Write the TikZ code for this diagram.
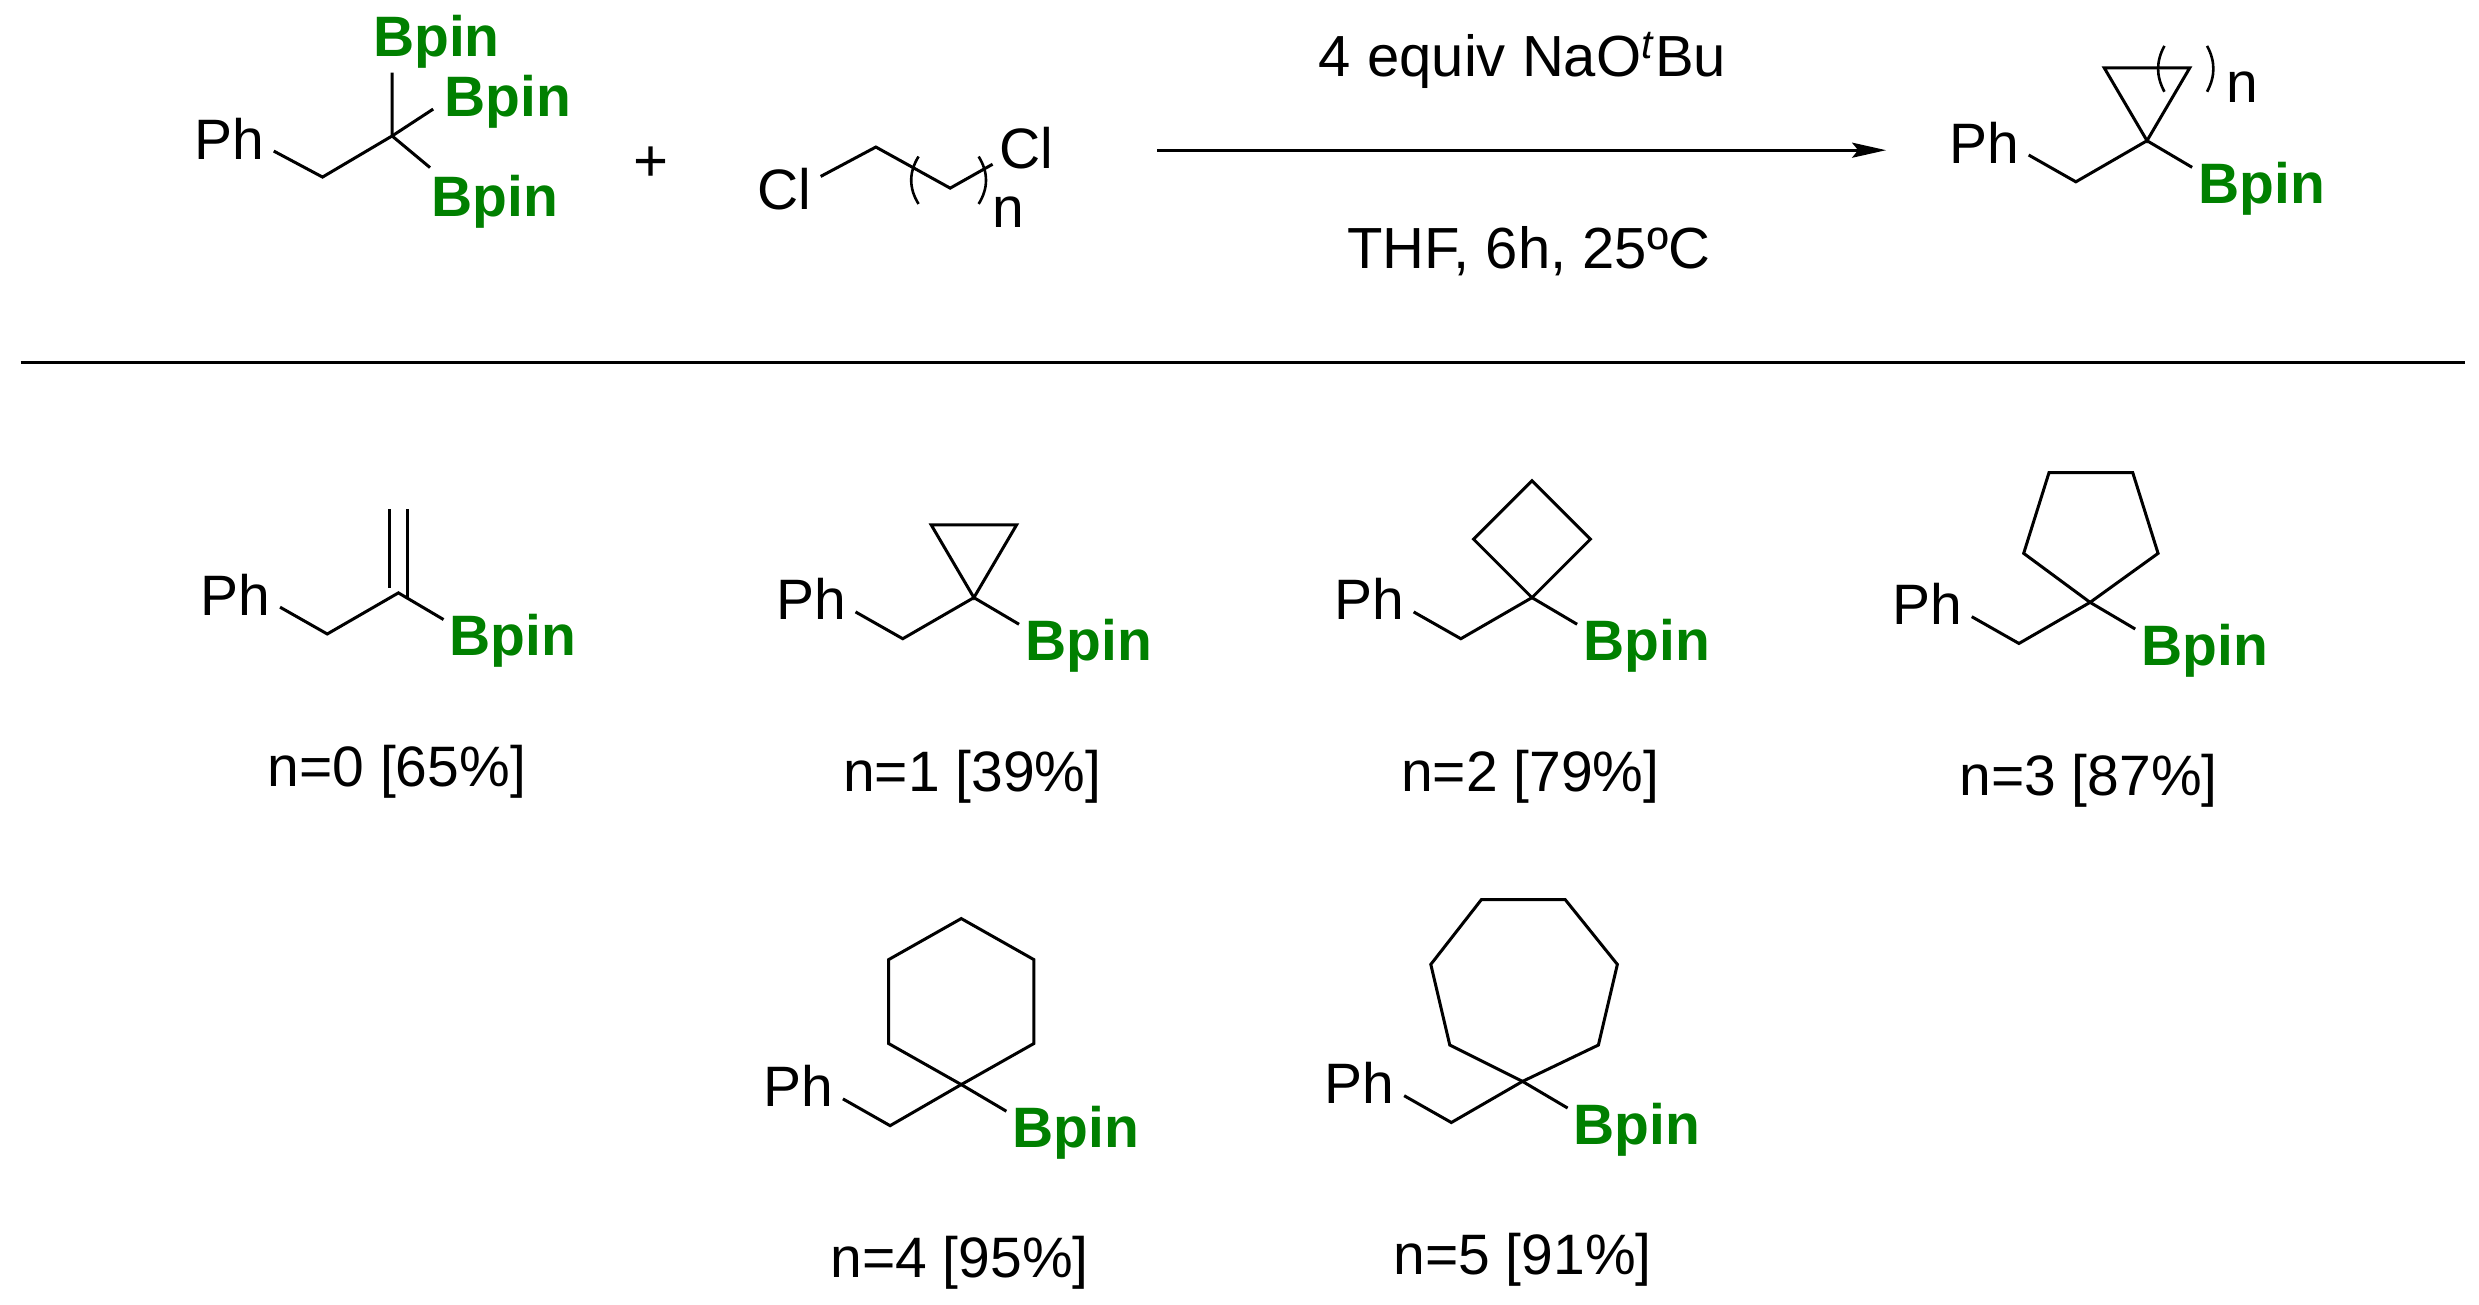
\documentclass[tikz,border=0pt]{standalone}
\usepackage{fontspec}
\setmainfont{Liberation Sans}
\usetikzlibrary{arrows.meta, positioning}
\definecolor{bpingreen}{HTML}{008000}

\begin{document}
\begin{tikzpicture}[
    x=0.7905pt, y=-0.7905pt,
    line width=1.5pt,
    every node/.style={font=\fontsize{28.5}{32}\selectfont},
    atom/.style={inner sep=0pt, text height=20pt, text depth=0pt},
    phenyl/.style={atom, minimum width=43pt},
    chloro/.style={atom, minimum width=32pt},
    bpin/.style={atom, minimum width=68pt, text=bpingreen, font=\fontsize{28.5}{32}\selectfont\bfseries},
    yield/.style={inner sep=0pt},
    cond/.style={font=\fontsize{29}{32}\selectfont},
    paren/.style={line width=1.3pt}
]

    \useasboundingbox (0,0) rectangle (1568,825.4);

    % Reactants --------------------------------------------------

    \node[phenyl] (ph) at (145,88) {Ph};
    \coordinate (ch2) at (204,112);
    \coordinate (cq) at (248,86);
    \node[bpin] (bpa) at (276,23) {Bpin};
    \node[bpin] (bpb) at (321,61) {Bpin};
    \node[bpin] (bpc) at (313,124) {Bpin};
    \coordinate (enda) at (248,46);
    \coordinate (endb) at (274,69);
    \coordinate (endc) at (272,106);
    \draw (ph.-15) -- (ch2) -- (cq) -- (enda);
    \draw (cq) -- (endb);
    \draw (cq) -- (endc);

    \node[font=\fontsize{30}{32}\selectfont] (plus) at (412,104) {+};

    \node[chloro, minimum width=35pt] (cla) at (496,120) {Cl};
    \node[chloro] (clb) at (649,94) {Cl};
    \coordinate (ca) at (554,93);
    \coordinate (cb) at (601,119);
    \draw (cla.20) -- (ca) -- (cb) -- (clb.205);
    \coordinate (lpa) at (581,99);
    \coordinate (lpb) at (581,129);
    \coordinate (rpa) at (619,99);
    \coordinate (rpb) at (619,129);
    \draw[paren] (lpa) to[bend right=32] (lpb);
    \draw[paren] (rpa) to[bend left=32] (rpb);
    \node (na) at (638,134) {n};

    % Arrow ------------------------------------------------------

    \coordinate (arra) at (732,95);
    \coordinate (arrb) at (1193,95);
    \draw[-{Stealth[length=17pt, width=7.5pt, inset=3pt]}] (arra) -- (arrb);
    \node[cond] (reag) at (963,38) {4 equiv NaO\textsuperscript{\textit{t}}Bu};
    \node[cond] (solv) at (967,159) {THF, 6h, 25ºC};

    % Rule -------------------------------------------------------

    \coordinate (rula) at (13,229);
    \coordinate (rulb) at (1559,229);
    \draw (rula) -- (rulb);

    % Products ---------------------------------------------------

    \foreach \n/\px/\py in {t/1358/89, 0/252/375, 1/616/378, 2/969/378,
        3/1322/381, 4/608/686, 5/963/684} {
        \begin{scope}[shift={(\px,\py)}]
            \coordinate (c\n) at (0,0);
            \coordinate (m\n) at (-45,26);
            \node[phenyl] (ph\n) at (-103,1.5) {Ph};
            \node[bpin] (bp\n) at (72.5,27) {Bpin};
            \draw (ph\n.-15) -- (m\n) -- (c\n) -- (bp\n.167);
        \end{scope}
    }

    \foreach \n/\px/\py/\yld in {0/251/488/65, 1/615/491/39, 2/968/491/79,
        3/1321/494/87, 4/607/799/95, 5/963/797/91} {
        \node[yield] (lab\n) at (\px,\py) {n=\n{} [\yld\%]};
    }

    % Rings ------------------------------------------------------

    \draw (ct) -- (1331,43) -- (1385,43) -- cycle;
    \coordinate (lqa) at (1369,29);
    \coordinate (lqb) at (1369,58);
    \coordinate (rqa) at (1396,29);
    \coordinate (rqb) at (1396,58);
    \draw[paren] (lqa) to[bend right=28] (lqb);
    \draw[paren] (rqa) to[bend left=28] (rqb);
    \node (nt) at (1418,55) {n};

    \draw (246.5,322) -- (246.5,372);
    \draw (257.5,322) -- (257.5,378);

    \draw (c1) -- (589,332) -- (643,332) -- cycle;
    \draw (c2) -- (932,341) -- (969,304) -- (1006,341) -- cycle;
    \draw (c3) -- (1280,350) -- (1296,299) -- (1349,299) -- (1365,350) -- cycle;
    \draw (c4) -- (562,660) -- (562,607) -- (608,581) -- (654,607) -- (654,660) -- cycle;
    \draw (c5) -- (917,661) -- (905,610) -- (937,569) -- (990,569) -- (1023,610) -- (1011,661) -- cycle;

\end{tikzpicture}
\end{document}
